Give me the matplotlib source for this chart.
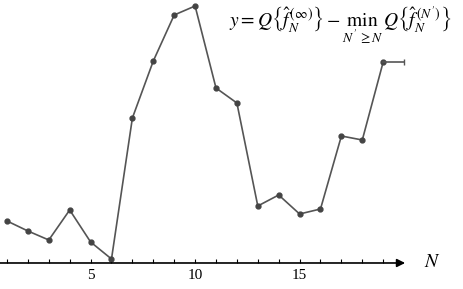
import numpy as np
import matplotlib
matplotlib.use("Agg")
import matplotlib.pyplot as plt

plt.rcParams["font.family"] = "Liberation Serif"
plt.rcParams["mathtext.fontset"] = "stix"

N = [1, 2, 3, 4, 5, 6, 7, 8, 9, 10, 11, 12, 13, 14, 15, 16, 17, 18, 19, 20]
y = [42, 32, 23, 53, 21, 4, 145, 202, 248, 257, 175, 160, 57, 68, 49, 54, 127, 123, 201, 201]
major_ticks = [5, 10, 15]
minor_ticks = list(range(1, 20))

fig = plt.figure(figsize=(4.63, 2.89), dpi=100)
ax = fig.add_axes([0, 0.09, 416 / 463, 0.91])

ax.plot(N[:-1], y[:-1], color="#555555", lw=1.2, marker="o", ms=3.5,
        mfc="#444444", mec="#444444", clip_on=False)
ax.plot(N[-2:], y[-2:], color="#555555", lw=1.2, marker="|", ms=4,
        markevery=[1], clip_on=False)

ax.set_xlim(0.665, 20.57)
ax.set_ylim(0, 263)

for s in ax.spines.values():
    s.set_visible(False)
ax.annotate("", xy=(20.05, 0), xytext=(0.665, 0),
            arrowprops=dict(arrowstyle="-|>", color="black", lw=1.2,
                            mutation_scale=12, shrinkA=0, shrinkB=0))
ax.set_xticks(major_ticks)
ax.set_xticks(minor_ticks, minor=True)
ax.tick_params(axis="x", which="both", direction="in", length=3, width=0.8,
               labelsize=11, pad=4)
ax.set_yticks([])

ax.text(20.95, 0, "$N$", fontsize=14, va="center", ha="left", clip_on=False)

fig.text(229 / 463, 1 - 27 / 289,
         r"$y = Q\left\{\hat{f}_N^{\,(\infty)}\right\} - \min_{N'\geq N}\, Q\left\{\hat{f}_N^{\,(N')}\right\}$",
         fontsize=14, va="baseline", ha="left")

plt.savefig("out.png", dpi=100)
